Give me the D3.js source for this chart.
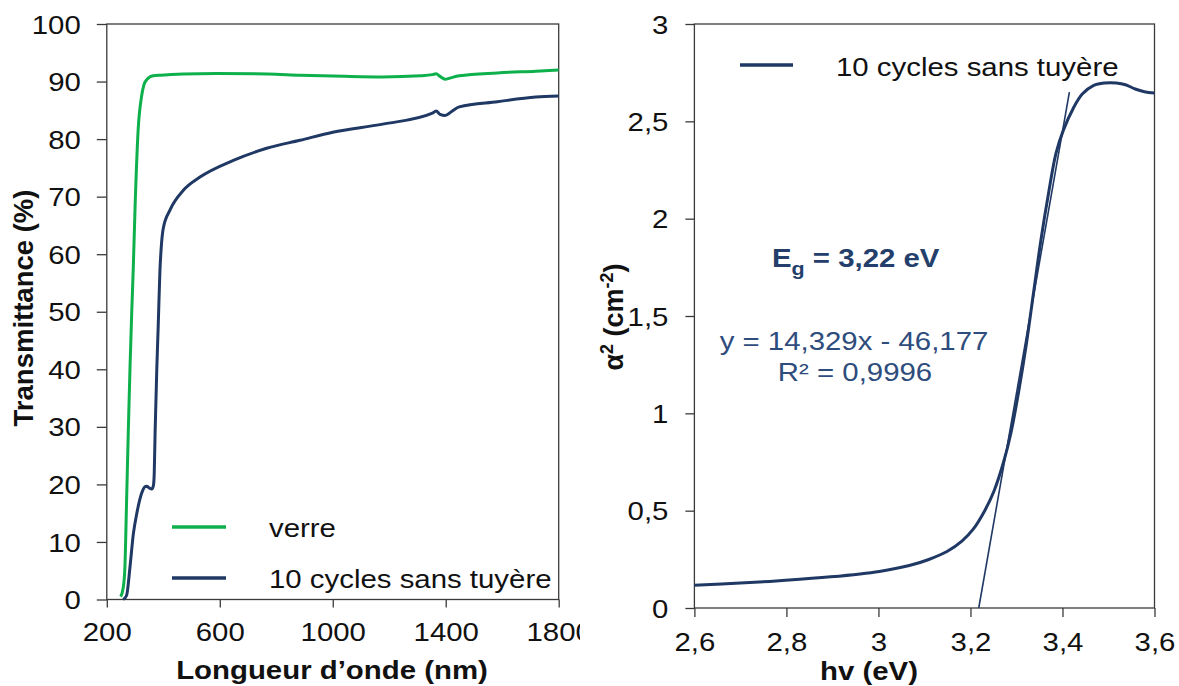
<!DOCTYPE html>
<html><head><meta charset="utf-8">
<script src="https://cdn.jsdelivr.net/npm/d3@7"></script>
<style>
body{margin:0;background:#fff}
text{font-family:"Liberation Sans",Arial,sans-serif}
</style>
</head><body>
<svg id="c" width="1179" height="686"></svg>
<script>
// ---------- data : left panel (transmittance) ----------
const verreX = [249, 258, 264, 270, 276, 282, 288, 294, 300, 311, 323, 332, 341, 352, 365, 391, 471, 589, 770, 884, 1041, 1177, 1312, 1353, 1366, 1380, 1398, 1414, 1448, 1583, 1719, 1800];
const verreY = [0.5, 2, 5.5, 17, 29, 40, 49.5, 58, 68, 81.6, 87.4, 89.5, 90.3, 90.8, 91.0, 91.1, 91.3, 91.4, 91.3, 91.1, 90.9, 90.8, 91.0, 91.2, 91.35, 90.9, 90.4, 90.6, 91.0, 91.5, 91.8, 92.0];
const cyclesX = [258, 270, 282, 294, 306, 323, 335, 341, 350, 359, 365, 368, 371, 377, 382, 388, 394, 400, 424, 471, 530, 648, 766, 884, 1000, 1177, 1353, 1366, 1380, 1398, 1421, 1448, 1583, 1719, 1800];
const cyclesY = [0, 0.7, 5.6, 11.4, 14.9, 18.4, 19.6, 19.7, 19.4, 19.2, 19.8, 22, 29, 40, 47.5, 57, 62, 64.5, 67.7, 71.1, 73.4, 76.3, 78.4, 79.8, 81.2, 82.6, 84.5, 84.9, 84.3, 84.1, 84.8, 85.6, 86.5, 87.3, 87.5];
const leftXTicks = [200, 600, 1000, 1400, 1800];
const leftYTicks = [0, 10, 20, 30, 40, 50, 60, 70, 80, 90, 100];
const leftLegend = ["verre", "10 cycles sans tuyère"];

// ---------- data : right panel (Tauc plot) ----------
const hvX = [2.6, 2.70, 2.798, 2.896, 3.002, 3.067, 3.108, 3.149, 3.182, 3.206, 3.231, 3.251, 3.272, 3.288, 3.304, 3.321, 3.337, 3.353, 3.370, 3.386, 3.402, 3.423, 3.443, 3.468, 3.492, 3.517, 3.537, 3.558, 3.578, 3.6];
const alpha2Y = [0.117, 0.128, 0.142, 0.160, 0.188, 0.218, 0.248, 0.290, 0.345, 0.405, 0.500, 0.600, 0.750, 0.899, 1.101, 1.348, 1.618, 1.888, 2.135, 2.337, 2.455, 2.565, 2.640, 2.685, 2.697, 2.697, 2.688, 2.666, 2.652, 2.645];
const fitX = [3.218, 3.415];
const fitY = [0, 2.65];
const rightXTicks = [2.6, 2.8, 3.0, 3.2, 3.4, 3.6];
const rightYTicks = [0, 0.5, 1, 1.5, 2, 2.5, 3];
const rightLegend = ["10 cycles sans tuyère"];

const GREEN = "#0DB04B", NAVY = "#1F3864", AX = "#3a3a3a";
const STRETCH = 1.13;
const svg = d3.select("#c");
svg.append("rect").attr("width",1179).attr("height",686).attr("fill","#fff");

function stretch(sel, k){
  sel.each(function(){
    const L = this.getComputedTextLength();
    this.setAttribute("textLength", L*k);
    this.setAttribute("lengthAdjust","spacingAndGlyphs");
  });
}
const comma = d => String(d).replace(".", ",");

// ================= LEFT PANEL =================
const xL = d3.scaleLinear([200,1800],[106.8,558.7]);
const yL = d3.scaleLinear([0,100],[599.5,24]);
const gL = svg.append("g");

function styleAxis(g){
  g.select(".domain").remove();
  g.selectAll(".tick line").attr("stroke",AX).attr("stroke-width",1.3);
  g.selectAll("text").attr("fill","#111").attr("font-size",26);
}
const axLY = gL.append("g").attr("transform",`translate(${xL(200)},0)`)
  .call(d3.axisLeft(yL).tickValues(leftYTicks).tickSize(10).tickSizeOuter(0).tickPadding(16).tickFormat(d=>String(d)));
styleAxis(axLY);
axLY.selectAll("text").attr("dy","0.35em");
const axLX = gL.append("g").attr("transform",`translate(0,${yL(0)})`)
  .call(d3.axisBottom(xL).tickValues(leftXTicks).tickSize(8).tickSizeOuter(0).tickPadding(15).tickFormat(d=>String(d)));
styleAxis(axLX);

gL.append("rect").attr("x",xL(200)).attr("y",yL(100))
  .attr("width",xL(1800)-xL(200)).attr("height",yL(0)-yL(100))
  .attr("fill","none").attr("stroke",AX).attr("stroke-width",1.3);

const lineL = d3.line().x(d=>xL(d[0])).y(d=>yL(d[1])).curve(d3.curveMonotoneX);
gL.append("path").datum(d3.zip(verreX,verreY)).attr("d",lineL)
  .attr("fill","none").attr("stroke",GREEN).attr("stroke-width",3);
gL.append("path").datum(d3.zip(cyclesX,cyclesY)).attr("d",lineL)
  .attr("fill","none").attr("stroke",NAVY).attr("stroke-width",3);

// legend
const legCols = [GREEN, NAVY];
const legY = [527, 578];
leftLegend.forEach((t,i)=>{
  gL.append("line").attr("x1",172).attr("x2",226).attr("y1",legY[i]).attr("y2",legY[i])
    .attr("stroke",legCols[i]).attr("stroke-width",3.5);
  gL.append("text").attr("class","ht").attr("x",269).attr("y",legY[i]+9.5)
    .attr("font-size",26).attr("fill","#111").text(t);
});

gL.append("text").attr("class","ht").attr("x",332).attr("y",679).attr("text-anchor","middle")
  .attr("font-size",26).attr("font-weight","bold").attr("fill","#111").text("Longueur d’onde (nm)");
gL.append("text").attr("transform","translate(33,308) rotate(-90)").attr("text-anchor","middle")
  .attr("font-size",27.5).attr("font-weight","bold").attr("fill","#111").text("Transmittance (%)");

// ================= RIGHT PANEL =================
const gR = svg.append("g");
gR.append("rect").attr("x",580).attr("y",0).attr("width",1179-580).attr("height",686).attr("fill","#fff");
const xR = d3.scaleLinear([2.6,3.6],[694.4,1154.5]);
const yR = d3.scaleLinear([0,3],[608,24]);

const axRY = gR.append("g").attr("transform",`translate(${xR(2.6)},0)`)
  .call(d3.axisLeft(yR).tickValues(rightYTicks).tickSize(9).tickSizeOuter(0).tickPadding(17).tickFormat(comma));
styleAxis(axRY);
axRY.selectAll("text").attr("dy","0.35em");
const axRX = gR.append("g").attr("transform",`translate(0,${yR(0)})`)
  .call(d3.axisBottom(xR).tickValues(rightXTicks).tickSize(9).tickSizeOuter(0).tickPadding(16).tickFormat(comma));
styleAxis(axRX);

gR.append("rect").attr("x",xR(2.6)).attr("y",yR(3))
  .attr("width",xR(3.6)-xR(2.6)).attr("height",yR(0)-yR(3))
  .attr("fill","none").attr("stroke",AX).attr("stroke-width",1.3);

const lineR = d3.line().x(d=>xR(d[0])).y(d=>yR(d[1])).curve(d3.curveCatmullRom.alpha(0.5));
gR.append("path").datum(d3.zip(hvX,alpha2Y)).attr("d",lineR)
  .attr("fill","none").attr("stroke",NAVY).attr("stroke-width",3);
gR.append("path").datum(d3.zip(fitX,fitY)).attr("d",d3.line().x(d=>xR(d[0])).y(d=>yR(d[1])))
  .attr("fill","none").attr("stroke",NAVY).attr("stroke-width",1.6);

rightLegend.forEach((t,i)=>{
  gR.append("line").attr("x1",740).attr("x2",793).attr("y1",65).attr("y2",65)
    .attr("stroke",NAVY).attr("stroke-width",3.5);
  gR.append("text").attr("class","ht").attr("x",836).attr("y",76)
    .attr("font-size",26).attr("fill","#111").text(t);
});

// Eg annotation
const eg = gR.append("text").attr("class","ht").attr("x",772).attr("y",267)
  .attr("font-size",26).attr("font-weight","bold").attr("fill","#243F6B");
eg.append("tspan").text("E");
eg.append("tspan").attr("dy",8).attr("font-size",19).text("g");
eg.append("tspan").attr("dy",-8).text(" = 3,22 eV");

gR.append("text").attr("class","ht").attr("x",854).attr("y",350).attr("text-anchor","middle")
  .attr("font-size",26).attr("fill","#2E4C7C").text("y = 14,329x - 46,177");
gR.append("text").attr("class","ht").attr("x",855).attr("y",381).attr("text-anchor","middle")
  .attr("font-size",26).attr("fill","#2E4C7C").text("R² = 0,9996");

gR.append("text").attr("class","ht").attr("x",869).attr("y",680).attr("text-anchor","middle")
  .attr("font-size",26).attr("font-weight","bold").attr("fill","#111").text("hv (eV)");

const yt = gR.append("text").attr("transform","translate(623,317) rotate(-90)").attr("text-anchor","middle")
  .attr("font-size",27).attr("font-weight","bold").attr("fill","#111");
yt.append("tspan").text("α");
yt.append("tspan").attr("dy",-10).attr("font-size",18).text("2");
yt.append("tspan").attr("dy",10).text(" (cm");
yt.append("tspan").attr("dy",-10).attr("font-size",18).text("-2");
yt.append("tspan").attr("dy",10).text(")");

// horizontal stretch to mimic the source rendering
stretch(svg.selectAll(".tick text"), STRETCH);
stretch(svg.selectAll("text.ht"), STRETCH);
</script>
</body></html>
